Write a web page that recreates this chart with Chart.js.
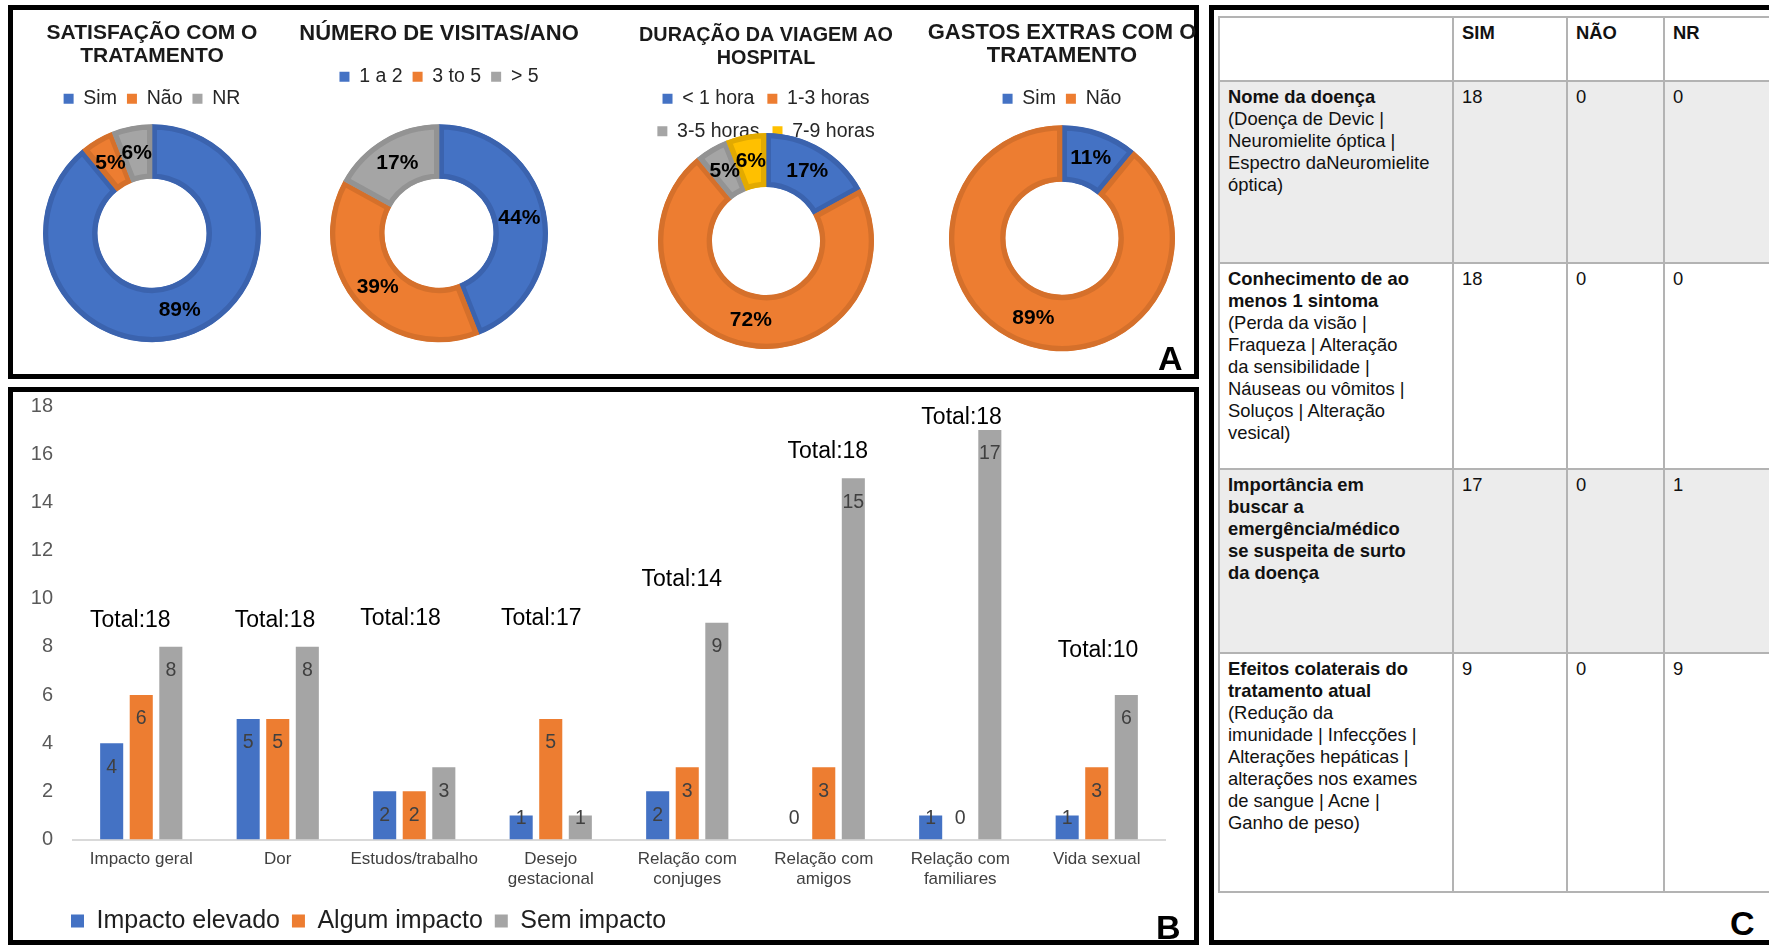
<!DOCTYPE html>
<html lang="pt">
<head>
<meta charset="utf-8">
<title>NMO – questionário</title>
<script src="https://cdn.jsdelivr.net/npm/chart.js@4.4.1/dist/chart.umd.min.js"></script>
<style>
  html, body { margin: 0; padding: 0; background: #fff; }
  body { position: relative; width: 1769px; height: 945px; overflow: hidden; font-family: 'Liberation Sans', Arial, sans-serif; }
  .panel { position: absolute; box-sizing: border-box; border: 5px solid #000; }
  #panelA { left: 8px; top: 5px; width: 1191px; height: 374px; }
  #panelB { left: 8px; top: 387px; width: 1191px; height: 558px; }
  #panelC { left: 1209px; top: 5px; width: 620px; height: 940px; }
  canvas { position: absolute; }
  .tag { position: absolute; font-weight: bold; font-size: 34px; line-height: 34px; color: #000; }
  #knowledge { position: absolute; left: 1218px; top: 16px; width: 585px; border-collapse: collapse; table-layout: fixed; font-size: 18.4px; line-height: 22px; color: #111; }
  #knowledge td, #knowledge th { border: 2px solid #b3b3b3; padding: 4px 8px; vertical-align: top; text-align: left; white-space: nowrap; }
  #knowledge th { font-weight: bold; }
  #knowledge tr.shade td { background: #ececec; }
</style>
</head>
<body>
<div class="panel" id="panelA"></div>
<div class="panel" id="panelB"></div>
<div class="panel" id="panelC"></div>

<canvas id="satisfacao" width="280" height="338" style="left:12px; top:10px;"></canvas>
<canvas id="visitas" width="280" height="360" style="left:299px; top:10px;"></canvas>
<canvas id="viagem" width="280" height="354" style="left:626px; top:10px;"></canvas>
<canvas id="gastos" width="280" height="348" style="left:922px; top:10px;"></canvas>

<canvas id="impacto" width="1181" height="571" style="left:13px; top:374px;"></canvas>

<table id="knowledge">
  <colgroup><col style="width:234px"><col style="width:114px"><col style="width:97px"><col style="width:140px"></colgroup>
  <tbody id="knowledgeBody"></tbody>
</table>

<div class="tag" style="left:1158px; top:341px;">A</div>
<div class="tag" style="left:1156px; top:910px;">B</div>
<div class="tag" style="left:1730px; top:906px;">C</div>

<script>
// ---- donut data ----
const satisfLabels = ['Sim', 'Não', 'NR'];
const satisfValues = [89, 5, 6];

const visitasLabels = ['1 a 2', '3 to 5', '> 5'];
const visitasValues = [44, 39, 17];

const viagemLabels = ['< 1 hora', '1-3 horas', '3-5 horas', '7-9 horas'];
const viagemValues = [17, 72, 5, 6];

const gastosLabels = ['Sim', 'Não'];
const gastosValues = [11, 89];

// ---- bar chart data ----
const impactCategories = ['Impacto geral', 'Dor', 'Estudos/trabalho', ['Desejo', 'gestacional'],
  ['Relação com', 'conjuges'], ['Relação com', 'amigos'], ['Relação com', 'familiares'], 'Vida sexual'];
const impactoElevado = [4, 5, 2, 1, 2, 0, 1, 1];
const algumImpacto = [6, 5, 2, 5, 3, 3, 0, 3];
const semImpacto = [8, 8, 3, 1, 9, 15, 17, 6];
const totais = [18, 18, 18, 17, 14, 18, 18, 10];
// where each "Total" caption sits: height in axis units, sideways shift in category units
const totalLabelAt = [9.1, 9.1, 9.15, 9.15, 10.8, 16.1, 17.5, 7.85];
const totalLabelShift = [-0.08, -0.02, -0.1, -0.07, -0.04, 0.03, 0.01, 0.01];
const yMin = 0, yMax = 18, yStep = 2;

// ---- table data ----
const tableHeader = ['', 'SIM', 'NÃO', 'NR'];
const rowTitles = [
  ['Nome da doença'],
  ['Conhecimento de ao', 'menos 1 sintoma'],
  ['Importância em', 'buscar a', 'emergência/médico', 'se suspeita de surto', 'da doença'],
  ['Efeitos colaterais do', 'tratamento atual']
];
const rowDetails = [
  ['(Doença de Devic |', 'Neuromielite óptica |', 'Espectro daNeuromielite', 'óptica)'],
  ['(Perda da visão |', 'Fraqueza | Alteração', 'da sensibilidade |', 'Náuseas ou vômitos |', 'Soluços | Alteração', 'vesical)'],
  [],
  ['(Redução da', 'imunidade | Infecções |', 'Alterações hepáticas |', 'alterações nos exames', 'de sangue | Acne |', 'Ganho de peso)']
];
const respSim = [18, 18, 17, 9];
const respNao = [0, 0, 0, 0];
const respNR = [0, 0, 1, 9];

const BLUE = '#4472C4', ORANGE = '#ED7D31', GRAY = '#A5A5A5', YELLOW = '#FFC000';
const BLUE_EDGE = '#3B63AE', ORANGE_EDGE = '#D5702B', GRAY_EDGE = '#939393', YELLOW_EDGE = '#E2AA00';

Chart.defaults.font.family = "'Liberation Sans', Arial, sans-serif";
Chart.defaults.animation = false;

// percentage written at the middle of every ring slice
const percentLabels = {
  id: 'percentLabels',
  afterDatasetsDraw(chart) {
    const ctx = chart.ctx;
    const values = chart.data.datasets[0].data;
    ctx.save();
    ctx.font = "bold 21px 'Liberation Sans', Arial, sans-serif";
    ctx.fillStyle = '#000';
    ctx.textAlign = 'center';
    ctx.textBaseline = 'middle';
    chart.getDatasetMeta(0).data.forEach((arc, i) => {
      const p = arc.tooltipPosition();
      ctx.fillText(values[i] + '%', p.x, p.y);
    });
    ctx.restore();
  }
};

function donut(id, title, labels, values, fills, edges, lay) {
  return new Chart(document.getElementById(id), {
    type: 'doughnut',
    data: {
      labels: labels,
      datasets: [{
        data: values,
        backgroundColor: fills,
        borderColor: edges,
        borderWidth: 5,
        borderAlign: 'inner',
        hoverOffset: 0,
        clip: false
      }]
    },
    options: {
      responsive: false,
      radius: lay.radius,
      cutout: '50%',
      layout: { padding: { bottom: lay.bottom || 0 } },
      plugins: {
        title: {
          display: true,
          text: title,
          color: '#1a1a1a',
          font: { size: lay.titleSize, weight: 'bold', lineHeight: '23px' },
          padding: { top: lay.titleTop, bottom: lay.titleBottom }
        },
        legend: {
          position: 'top',
          labels: {
            boxWidth: 10,
            boxHeight: 10,
            padding: lay.gap,
            color: '#262626',
            font: { size: 19.5 },
            generateLabels(chart) {
              const items = Chart.overrides.doughnut.plugins.legend.labels.generateLabels(chart);
              items.forEach(it => { it.lineWidth = 0; it.strokeStyle = it.fillStyle; });
              return items;
            }
          }
        },
        tooltip: { enabled: false }
      }
    },
    plugins: [percentLabels]
  });
}

donut('satisfacao', ['SATISFAÇÃO COM O', 'TRATAMENTO'], satisfLabels, satisfValues,
  [BLUE, ORANGE, GRAY], [BLUE_EDGE, ORANGE_EDGE, GRAY_EDGE],
  { radius: 109, titleSize: 21, titleTop: 12, titleBottom: 11, gap: 10 });

donut('visitas', 'NÚMERO DE VISITAS/ANO', visitasLabels, visitasValues,
  [BLUE, ORANGE, GRAY], [BLUE_EDGE, ORANGE_EDGE, GRAY_EDGE],
  { radius: 109, titleSize: 22, titleTop: 12, titleBottom: 12, gap: 10 });

donut('viagem', ['DURAÇÃO DA VIAGEM AO', 'HOSPITAL'], viagemLabels, viagemValues,
  [BLUE, ORANGE, GRAY, YELLOW], [BLUE_EDGE, ORANGE_EDGE, GRAY_EDGE, YELLOW_EDGE],
  { radius: 108, titleSize: 19.8, titleTop: 14, titleBottom: 6, gap: 13, bottom: 33 });

donut('gastos', ['GASTOS EXTRAS COM O', 'TRATAMENTO'], gastosLabels, gastosValues,
  [BLUE, ORANGE], [BLUE_EDGE, ORANGE_EDGE],
  { radius: 113, titleSize: 22, titleTop: 11, titleBottom: 12, gap: 10 });

// value written inside the top of each bar (or just above the axis when the bar is short)
const barValueLabels = {
  id: 'barValueLabels',
  afterDatasetsDraw(chart) {
    const ctx = chart.ctx;
    ctx.save();
    ctx.font = "19.5px 'Liberation Sans', Arial, sans-serif";
    ctx.fillStyle = '#404040';
    ctx.textAlign = 'center';
    ctx.textBaseline = 'middle';
    chart.data.datasets.forEach((ds, d) => {
      chart.getDatasetMeta(d).data.forEach((bar, i) => {
        const y = Math.min(bar.y + 24, bar.base - 21);
        ctx.fillText(String(ds.data[i]), bar.x, y);
      });
    });
    ctx.restore();
  }
};

// "Total:NN" caption above each group
const totalLabels = {
  id: 'totalLabels',
  afterDatasetsDraw(chart) {
    const ctx = chart.ctx;
    const xs = chart.scales.x, ys = chart.scales.y;
    ctx.save();
    ctx.font = "23px 'Liberation Sans', Arial, sans-serif";
    ctx.fillStyle = '#000';
    ctx.textAlign = 'center';
    ctx.textBaseline = 'middle';
    totais.forEach((t, i) => {
      ctx.fillText('Total:' + t, xs.getPixelForValue(i + totalLabelShift[i]), ys.getPixelForValue(totalLabelAt[i]));
    });
    ctx.restore();
  }
};

// legend starts a little to the right, under the tick labels
const legendIndent = {
  id: 'legendIndent',
  afterLayout(chart) {
    chart.legend.left = 46;
  }
};

new Chart(document.getElementById('impacto'), {
  type: 'bar',
  data: {
    labels: impactCategories,
    datasets: [
      { label: 'Impacto elevado', data: impactoElevado, backgroundColor: BLUE },
      { label: 'Algum impacto', data: algumImpacto, backgroundColor: ORANGE },
      { label: 'Sem impacto', data: semImpacto, backgroundColor: GRAY }
    ]
  },
  options: {
    responsive: false,
    datasets: { bar: { categoryPercentage: 0.65, barPercentage: 0.78 } },
    layout: { padding: { left: 0, right: 29, top: 0, bottom: 1.5 } },
    scales: {
      x: {
        grid: { display: true, drawOnChartArea: false, drawTicks: false },
        border: { display: true, color: '#d9d9d9', width: 2 },
        ticks: { color: '#404040', font: { size: 17, lineHeight: '20px' }, padding: 10, maxRotation: 0, autoSkip: false },
        afterFit(axis) { axis.height = 57; }
      },
      y: {
        min: yMin,
        max: yMax,
        grid: { display: false, drawTicks: false },
        border: { display: false },
        ticks: { stepSize: yStep, color: '#595959', font: { size: 20 }, padding: 20 },
        afterFit(axis) { axis.width = 60; }
      }
    },
    plugins: {
      legend: {
        position: 'bottom',
        align: 'start',
        labels: { boxWidth: 13, boxHeight: 13, padding: 12, color: '#1f1f1f', font: { size: 25 } }
      },
      tooltip: { enabled: false }
    }
  },
  plugins: [barValueLabels, totalLabels, legendIndent]
});

// knowledge table
const body = document.getElementById('knowledgeBody');
const rowHeights = [64, 182, 206, 184, 239];
const head = document.createElement('tr');
head.style.height = rowHeights[0] + 'px';
tableHeader.forEach(h => {
  const th = document.createElement('th');
  th.textContent = h;
  head.appendChild(th);
});
body.appendChild(head);

rowTitles.forEach((title, r) => {
  const tr = document.createElement('tr');
  tr.style.height = rowHeights[r + 1] + 'px';
  if (r % 2 === 0) tr.className = 'shade';
  const first = document.createElement('td');
  const b = document.createElement('b');
  title.forEach((line, k) => {
    if (k) b.appendChild(document.createElement('br'));
    b.appendChild(document.createTextNode(line));
  });
  first.appendChild(b);
  rowDetails[r].forEach(line => {
    first.appendChild(document.createElement('br'));
    first.appendChild(document.createTextNode(line));
  });
  tr.appendChild(first);
  [respSim[r], respNao[r], respNR[r]].forEach(v => {
    const td = document.createElement('td');
    td.textContent = v;
    tr.appendChild(td);
  });
  body.appendChild(tr);
});
</script>
</body>
</html>
